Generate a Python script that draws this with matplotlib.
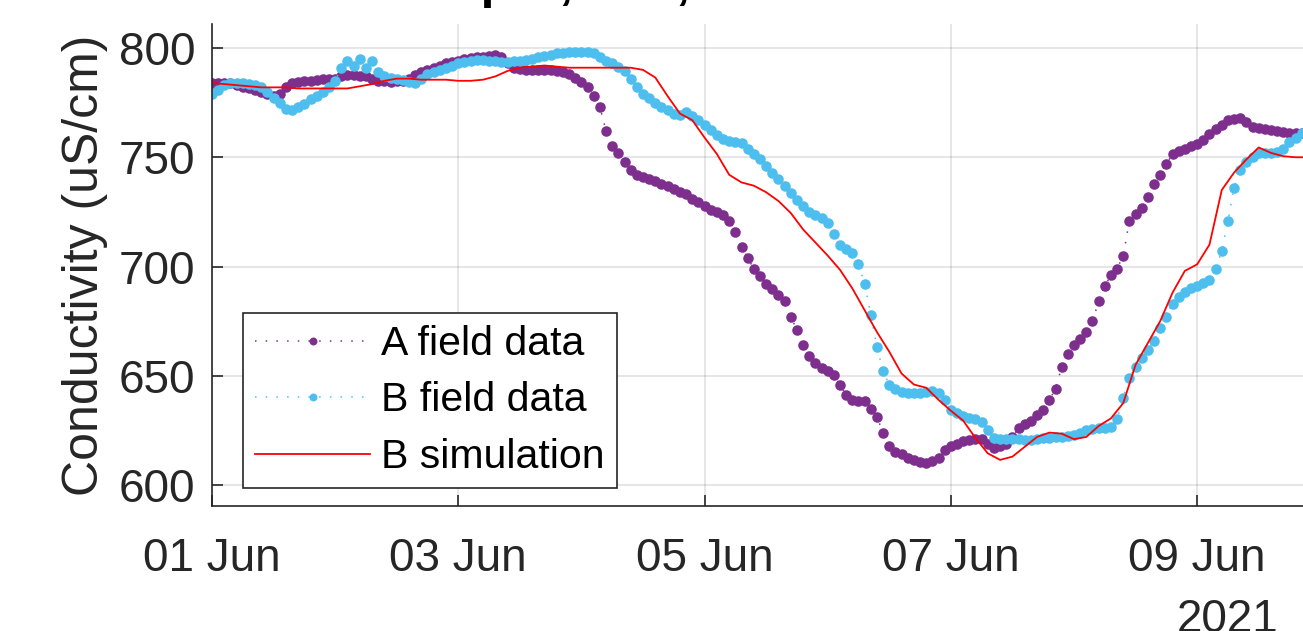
import numpy as np
import matplotlib
matplotlib.use("Agg")
import matplotlib.pyplot as plt
import matplotlib.dates as mdates

plt.rcParams["font.family"] = ["Liberation Sans", "DejaVu Sans"]

# ---------------------------------------------------------------------------
# data, time in days after 01 Jun 2021
START = np.datetime64("2021-06-01T00:00")

field_step = 0.05          # days between field samples
a_field = [
    784, 784, 784, 784, 783, 782, 781.5, 781, 780, 779,
    778, 779, 782, 784, 784.5, 785, 785, 785.5, 786, 786,
    786, 787, 787.5, 787.5, 787, 787, 786, 785, 785, 784.5,
    785, 785, 786, 787.5, 789, 790, 791, 792, 793, 793.5,
    794, 795, 795.5, 796, 796, 796.5, 797, 796, 793, 791,
    790.5, 790, 790, 790, 790, 790, 789.5, 789, 788, 786.5,
    784.5, 782, 778, 773, 762, 755, 752, 748, 744, 742,
    741, 740, 739, 738, 737, 735.5, 734, 733, 731, 729.5,
    727.5, 726, 725, 723.5, 721, 716, 709, 704, 699, 695.5,
    692, 689.5, 687, 684, 677, 671, 664, 659, 656, 653.5,
    652, 650.5, 646, 641, 639, 638.5, 638.5, 635, 631, 624,
    618, 615, 614, 612.5, 611.5, 610.5, 610, 611, 612.5, 616,
    618, 619, 620, 620.5, 621, 621, 619, 617, 618, 619,
    622, 626, 628, 629.5, 632, 634.5, 639, 644, 654, 660,
    664, 667, 670, 675, 684, 691, 696, 699, 705, 721,
    724, 727, 732, 738, 742, 747, 751.5, 753, 754, 755,
    756, 758, 760.5, 763, 765, 767, 767.5, 768, 766, 764,
    763.5, 763, 762.5, 762, 761.5, 761, 761, 761,
]
b_field = [
    779, 781, 783, 784, 784, 784, 783.5, 783, 782, 780,
    777, 775, 772, 771.5, 773, 774.5, 776.5, 778, 780, 782,
    785, 791, 794, 792, 795, 791, 794, 789, 787, 786.5,
    786, 785.5, 784.5, 784, 786, 788, 789, 790, 791, 792,
    793, 793.5, 794, 794.5, 794.5, 794, 794, 793.5, 793.5, 794,
    794, 794.5, 795, 796, 796.5, 797, 797.5, 797.5, 798, 798,
    798, 798, 797.5, 796, 794, 793, 791.5, 789.5, 786, 782,
    779, 777, 775, 773, 771.5, 770, 769.5, 770.5, 769, 767,
    765, 762.5, 760, 758.5, 757.5, 757, 756.5, 754, 751.5, 749,
    746, 743, 740, 737, 733.5, 730.5, 727.5, 725, 723.5, 722,
    720, 715, 710, 708, 706, 701, 692, 678, 663, 652,
    646, 644, 642.5, 642, 642, 642, 642.5, 643, 642, 639,
    634.5, 633, 631.5, 630.5, 630, 629, 625, 621.5, 621, 621,
    621, 621, 620.5, 620.5, 621, 621.5, 621.5, 622, 622, 622.5,
    623, 624, 625, 625.5, 626, 626, 626.5, 630, 640, 649,
    654, 658, 662, 666, 672, 677, 683, 686, 688.5, 690,
    691, 692.5, 694, 699, 707, 721, 736, 744, 748, 750,
    752, 752, 752, 752.5, 754, 757, 759, 761,
]

sim_step = 0.1             # days between simulation outputs
b_sim = [
    784, 783.5, 783, 782.5, 782, 782, 782, 781.5, 781.5, 781.5,
    781.5, 781.5, 782.5, 783.5, 785, 786, 786, 785.5, 785.5, 785.5,
    785, 785, 785.5, 787, 789.5, 791, 791.5, 792, 791.5, 791,
    791, 791, 791, 791, 791, 790, 786.5, 778, 770, 767,
    759, 751.5, 742, 738.5, 737, 734, 730, 724.5, 717, 711,
    705, 698.5, 690, 680, 670, 661, 651, 646, 644.5, 639,
    634, 629.5, 621.5, 614.5, 611.5, 613, 617.5, 622, 624, 623.5,
    621, 622, 627, 630.5, 637.5, 655, 665, 675, 688, 698,
    701, 710, 735, 743, 749, 754.5, 752, 750.5, 750, 750,
]

series_labels = ["A field data", "B field data", "B simulation"]
tick_days = [1, 3, 5, 7, 9]
year_label = "2021"
title_text = "Group A, Jun, 2021"

COL_A = "#7E2F8E"
COL_B = "#4DBEEE"
COL_SIM = "#FF0000"
AX_COL = "#262626"


def times(n, step):
    mins = np.round(np.arange(n) * step * 1440).astype("int64")
    return START + mins.astype("timedelta64[m]")


t_field = times(len(a_field), field_step)
t_sim = times(len(b_sim), sim_step)

# ---------------------------------------------------------------------------
fig = plt.figure(figsize=(13.03, 6.31), dpi=100)
ax = fig.add_axes([212 / 1303, 125 / 631, 1091 / 1303, 482 / 631])

dot = dict(linestyle=(0, (1, 6)), lw=1.1, marker="o", ms=7.6, mew=0)
ax.plot(t_field, a_field, color=COL_A, label=series_labels[0], **dot)
ax.plot(t_field, b_field, color=COL_B, label=series_labels[1], **dot)
ax.plot(t_sim, b_sim, color=COL_SIM, lw=1.3, label=series_labels[2])

ax.set_xlim(START, START + np.timedelta64(int(8.86 * 1440), "m"))
ax.set_ylim(590.4, 811)
ax.set_yticks([600, 650, 700, 750, 800])
ax.xaxis.set_major_locator(mdates.DayLocator(bymonthday=tick_days))
ax.xaxis.set_major_formatter(mdates.DateFormatter("%d %b"))

ax.grid(True, color=AX_COL, alpha=0.15, lw=1.1)
ax.set_axisbelow(True)
for s in ("top", "right"):
    ax.spines[s].set_visible(False)
for s in ("left", "bottom"):
    ax.spines[s].set_color(AX_COL)
    ax.spines[s].set_linewidth(1.2)
ax.tick_params(direction="in", length=8, width=1.2, colors=AX_COL,
               labelsize=33)
ax.tick_params(axis="x", pad=22)
ax.tick_params(axis="y", pad=12)
ax.set_ylabel("Conductivity (uS/cm)", fontsize=36, color=AX_COL, labelpad=8)

leg = ax.legend(loc="lower left", bbox_to_anchor=(0.0284, 0.037),
                borderaxespad=0, fontsize=29.5, fancybox=False,
                framealpha=1, edgecolor=AX_COL, handlelength=2.8,
                handletextpad=0.28, labelspacing=0.45, borderpad=0.3,
                markerscale=0.75)
leg.get_frame().set_linewidth(1.2)

fig.text(1228 / 1303, 1 - 598 / 631, year_label, fontsize=33, color=AX_COL,
         ha="center", va="top")
fig.text(361 / 1303, 1 + 2 / 631, title_text, fontsize=36,
         fontweight="bold", ha="left", va="baseline")

fig.savefig("out.png", dpi=100)
